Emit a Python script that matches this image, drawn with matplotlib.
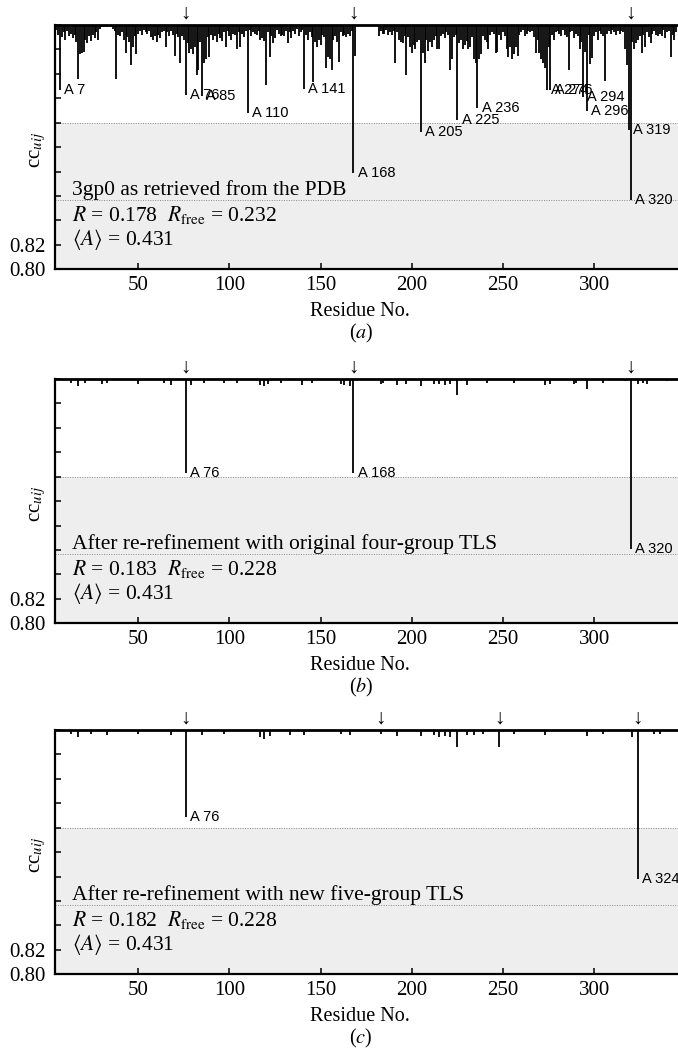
import numpy as np
import matplotlib
matplotlib.use('Agg')
import matplotlib.pyplot as plt
from matplotlib import transforms

plt.rcParams['font.family'] = ['Liberation Serif', 'DejaVu Serif']
plt.rcParams['mathtext.fontset'] = 'stix'

# panel (a): drop below 1.0 in units of 0.001, residues 5..345
first_res = 5
depth_a = [
    4, 8, 53, 10, 6, 12, 5, 9, 7, 11,        # 5-14
    8, 14, 44, 24, 23, 22, 12, 15, 9, 13,    # 15-24
    8, 11, 6, 12, 3, 2, 2, 1, 2, 1,          # 25-34
    2, 3, 5, 44, 8, 9, 6, 12, 23, 10,        # 35-44
    14, 33, 18, 9, 24, 7, 5, 8, 4, 6,        # 45-54
    7, 5, 10, 12, 9, 14, 8, 11, 6, 5,        # 55-64
    18, 6, 9, 5, 8, 25, 7, 10, 31, 9,        # 65-74
    12, 57, 15, 23, 20, 24, 18, 41, 37, 14,  # 75-84
    58, 31, 28, 10, 26, 8, 12, 9, 14, 7,     # 85-94
    11, 13, 6, 18, 5, 9, 12, 7, 8, 20,       # 95-104
    6, 18, 7, 10, 5, 72, 4, 9, 6, 7,         # 105-114
    8, 5, 12, 11, 13, 49, 6, 26, 9, 15,      # 115-124
    11, 4, 7, 9, 8, 9, 5, 15, 6, 11,         # 125-134
    5, 7, 3, 9, 6, 4, 52, 8, 12, 6,          # 135-144
    10, 47, 14, 18, 12, 16, 8, 10, 35, 26,   # 145-154
    28, 37, 12, 9, 14, 30, 6, 9, 8, 10,      # 155-164
    7, 9, 5, 121, 25, 0, 0, 0, 0, 0,         # 165-174
    0, 0, 0, 0, 0, 0, 0, 9, 5, 7,            # 175-184
    7, 4, 8, 6, 8, 5, 31, 6, 12, 14,         # 185-194
    15, 9, 41, 10, 18, 23, 16, 20, 14, 12,   # 195-204
    88, 23, 31, 12, 21, 14, 18, 12, 9, 20,   # 205-214
    20, 9, 7, 11, 6, 8, 37, 28, 10, 8,       # 215-224
    78, 15, 12, 20, 16, 13, 20, 18, 10, 28,  # 225-234
    31, 68, 28, 24, 9, 12, 14, 20, 8, 6,     # 235-244
    7, 23, 22, 8, 12, 6, 9, 20, 26, 18,      # 245-254
    28, 24, 18, 25, 8, 6, 4, 9, 7, 5,        # 255-264
    6, 5, 10, 23, 12, 23, 28, 31, 35, 53,    # 265-274
    18, 53, 8, 12, 6, 5, 7, 9, 4, 8,         # 275-284
    10, 37, 6, 5, 11, 7, 9, 20, 14, 59,      # 285-294
    22, 70, 8, 32, 27, 9, 6, 12, 5, 7,       # 295-304
    9, 46, 7, 5, 7, 4, 6, 8, 5, 7,           # 305-314
    5, 6, 20, 33, 86, 143, 14, 20, 15, 12,   # 315-324
    9, 23, 8, 18, 6, 10, 15, 7, 5, 8,        # 325-334
    9, 7, 9, 4, 11, 6, 5, 26, 8, 12,         # 335-344
    6,                                       # 345
]
res_a = np.arange(first_res, first_res + len(depth_a))

# panels (b) and (c): only residues with a visible drop
res_b = [13, 17, 21, 30, 33, 50, 64, 68, 76, 79, 86, 97, 104, 117, 119, 121,
         128, 140, 145, 161, 163, 166, 168, 183, 184, 192, 197, 205, 212, 215,
         218, 221, 225, 230, 241, 256, 273, 276, 289, 290, 296, 305, 317, 320,
         324, 327, 329, 340]
depth_b = [3, 6, 3, 4, 3, 4, 3, 5, 77, 5, 3, 3, 3, 5, 6, 4,
           3, 5, 3, 4, 5, 6, 77, 4, 3, 5, 4, 6, 4, 4,
           5, 4, 13, 5, 3, 3, 5, 4, 4, 3, 8, 3, 2, 139,
           4, 3, 4, 2]

res_c = [13, 17, 24, 33, 50, 68, 76, 85, 97, 117, 119, 122, 133, 141, 161, 166,
         183, 192, 205, 212, 215, 218, 221, 225, 230, 234, 239, 248, 256, 273,
         296, 305, 321, 324, 333, 336]
depth_c = [3, 6, 3, 4, 3, 4, 71, 4, 3, 6, 7, 5, 4, 4, 3, 4,
           3, 5, 5, 4, 6, 5, 6, 14, 4, 4, 3, 14, 3, 4,
           5, 3, 6, 122, 3, 3]

panel_res = [res_a, res_b, res_c]
panel_depth = [depth_a, depth_b, depth_c]
titles = ['3gp0 as retrieved from the PDB',
          'After re-refinement with original four-group TLS',
          'After re-refinement with new five-group TLS']
r_work = ['0.178', '0.183', '0.182']
r_free = ['0.232', '0.228', '0.228']
mean_a = ['0.431', '0.431', '0.431']
arrows = [[76, 168, 320], [76, 168, 320], [76, 183, 248, 324]]
labelled = [[7, 76, 85, 110, 141, 168, 205, 225, 236, 274, 276, 294, 296, 319, 320],
            [76, 168, 320],
            [76, 324]]
tags = ['a', 'b', 'c']
upper_cut = 0.92
lower_cut = 0.857

W, H = 678, 1049
fig = plt.figure(figsize=(W / 100, H / 100), dpi=100)
tops = [25, 379, 730]
ax_h = 244.3
left = 55

for i in range(3):
    ax = fig.add_axes([left / W, 1 - (tops[i] + ax_h) / H, (W - left) / W, ax_h / H])
    res = np.array(panel_res[i])
    cc = 1 - np.array(panel_depth[i]) / 1000.0

    ax.axhspan(0.80, upper_cut, color='#eeeeee', lw=0, zorder=0)
    for lev in (upper_cut, lower_cut):
        ax.axhline(lev, color='#888888', lw=0.7, ls=(0, (1, 1.5)), zorder=1)
    ax.vlines(res, cc, 1.0, color='black', lw=1.3, zorder=3)

    for r in labelled[i]:
        y = cc[list(res).index(r)]
        ax.annotate('A %d' % r, (r, y), xytext=(3, 0), textcoords='offset points',
                    ha='left', va='center', fontsize=10.5,
                    family=['Liberation Sans', 'DejaVu Sans'], annotation_clip=False, zorder=4)

    trans = transforms.blended_transform_factory(ax.transData, ax.transAxes)
    for r in arrows[i]:
        ax.text(r, 1.006, '\u2193', transform=trans, ha='center', va='bottom',
                fontsize=15, family=['Liberation Serif', 'DejaVu Sans'])

    ax.text(0.027, 0.304, titles[i], transform=ax.transAxes, fontsize=15.5, va='baseline')
    ax.text(0.027, 0.199, r'$R$ = %s  $R_{\rm free}$ = %s' % (r_work[i], r_free[i]),
            transform=ax.transAxes, fontsize=15.5, va='baseline')
    ax.text(0.027, 0.099, r'$\langle A\rangle$ = %s' % mean_a[i],
            transform=ax.transAxes, fontsize=15.5, va='baseline')

    ax.set_xlim(4.3, 346)
    ax.set_ylim(0.80, 1.00)
    ax.set_xticks([50, 100, 150, 200, 250, 300])
    yt = np.arange(0.80, 1.001, 0.02)
    ax.set_yticks(yt)
    ax.set_yticklabels(['0.80', '0.82'] + [''] * (len(yt) - 2))
    ax.tick_params(direction='in', length=4.5, width=1.1, labelsize=15, top=False, right=False)
    ax.tick_params(axis='y', pad=7)
    ax.tick_params(axis='x', pad=5)

    ax.spines['right'].set_visible(False)
    ax.spines['top'].set_linewidth(2.0)
    ax.spines['left'].set_linewidth(1.6)
    ax.spines['bottom'].set_linewidth(1.6)

    ax.set_xlabel('Residue No.', fontsize=14.5, va='top')
    ax.xaxis.set_label_coords(0.49, -0.135)
    ax.set_ylabel(r'cc$_{uij}$', fontsize=15)
    ax.yaxis.set_label_coords(-0.012, 0.49)
    ax.text(0.491, -0.216, '($%s$)' % tags[i], transform=ax.transAxes,
            ha='center', va='top', fontsize=14.5)

fig.savefig('out.png', dpi=100)
